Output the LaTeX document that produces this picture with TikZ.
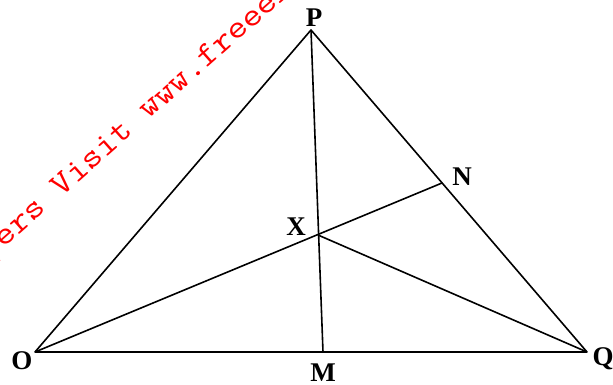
\documentclass[tikz,border=0pt]{standalone}
\usepackage{fontspec}
\setmainfont{Liberation Serif}
\newfontfamily\wmfont[FakeStretch=1.14]{Latin Modern Mono}
\begin{document}
\begin{tikzpicture}[x=1pt,y=-1pt,
  seg/.style={line width=1.6pt, line join=round},
  lbl/.style={font=\fontsize{27}{27}\selectfont\bfseries, inner sep=0pt},
  wm/.style={font=\wmfont\fontsize{33}{33}\selectfont, text=red, inner sep=0pt, rotate=41.5, anchor=base west}]
\useasboundingbox (0,0) rectangle (613,385);
\begin{scope}
\clip (0,0) rectangle (613,385);
\node[wm] (wmark) at (-40,287) {Papers Visit www.freeexampapers.com};
\end{scope}
\coordinate (O) at (35,352);
\coordinate (P) at (311,30);
\coordinate (Q) at (587,352);
\coordinate (M) at (323,352);
\coordinate (N) at (442,183);
\coordinate (X) at (318,235);
\draw[seg] (O) -- (P) -- (Q) -- cycle;
\draw[seg] (P) -- (M);
\draw[seg] (O) -- (N);
\draw[seg] (X) -- (Q);
\node[lbl] (lO) at (22,361) {O};
\node[lbl] (lP) at (314,18) {P};
\node[lbl] (lQ) at (603,359) {Q};
\node[lbl] (lM) at (323,373) {M};
\node[lbl] (lN) at (462,177) {N};
\node[lbl] (lX) at (296,227) {X};
\end{tikzpicture}
\end{document}
